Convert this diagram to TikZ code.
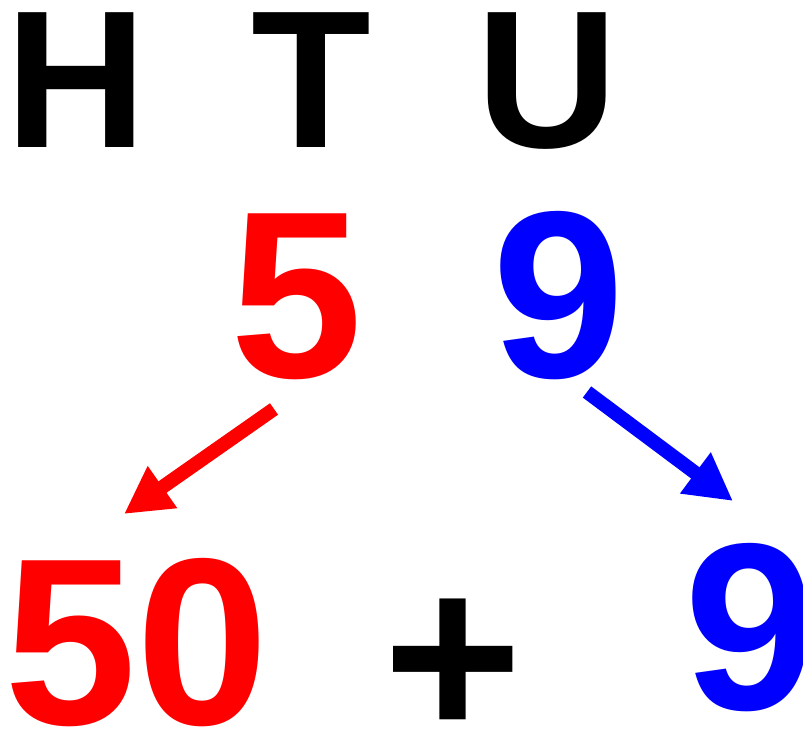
\documentclass[tikz,border=0pt]{standalone}
\usepackage{fontspec}
\setmainfont{Liberation Sans}
\usetikzlibrary{arrows.meta}

\tikzset{
    head/.style={inner sep=0pt, anchor=base, font=\fontsize{196}{196}\selectfont\bfseries},
    digit/.style={inner sep=0pt, anchor=base, font=\fontsize{238}{238}\selectfont\bfseries},
    splitarrow/.style={line width=14pt, -{Triangle[length=47pt,width=48pt]}}
}

\begin{document}
\begin{tikzpicture}[x=1pt,y=-1pt]
    \useasboundingbox (0,0) rectangle (803,730);

    %column heads
    \node[head] (hundreds) at (76,148) {H};
    \node[head] (tens) at (311,148) {T};
    \node[head] (units) at (547,148) {U};

    %the number
    \node[digit,red] (five) at (297,377) {5};
    \node[digit,blue] (nine) at (559,377) {9};

    %the expanded form
    \node[digit,red] (fifty) at (137,724) {50};
    \node[digit] (plus) at (453,738) {+};
    \node[digit,blue] (ninebelow) at (751,709) {9};

    %arrows
    \coordinate (redtail) at (274,409);
    \coordinate (redtip) at (124,514);
    \coordinate (bluetail) at (587,392);
    \coordinate (bluetip) at (733,501);
    \draw[splitarrow,red] (redtail) -- (redtip);
    \draw[splitarrow,blue] (bluetail) -- (bluetip);
\end{tikzpicture}
\end{document}
